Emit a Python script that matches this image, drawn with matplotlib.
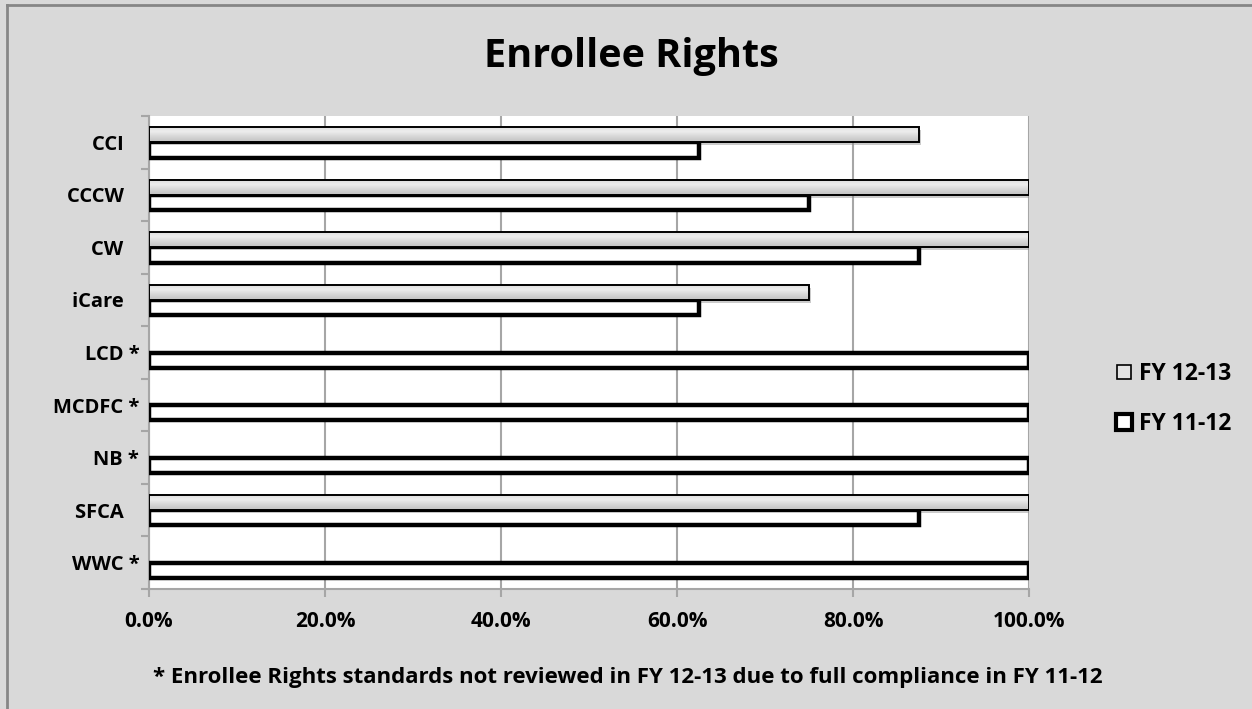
import matplotlib.pyplot as plt
import numpy as np
from matplotlib.colors import LinearSegmentedColormap
from matplotlib.lines import Line2D
from matplotlib.patches import Rectangle
from matplotlib.ticker import FixedLocator, PercentFormatter
from matplotlib.transforms import offset_copy

plans = ['CCI', 'CCCW', 'CW', 'iCare', 'LCD *', 'MCDFC *', 'NB *', 'SFCA', 'WWC *']
fy_12_13 = [0.875, 1.0, 1.0, 0.75, np.nan, np.nan, np.nan, 1.0, np.nan]
fy_11_12 = [0.625, 0.75, 0.875, 0.625, 1.0, 1.0, 1.0, 0.875, 1.0]
x_ticks = [0.0, 0.2, 0.4, 0.6, 0.8, 1.0]

title = 'Enrollee Rights'
footnote = '* Enrollee Rights standards not reviewed in FY 12-13 due to full compliance in FY 11-12'

plt.rcParams['font.family'] = ['Open Sans', 'DejaVu Sans']
plt.rcParams['font.weight'] = 'bold'

BG = '#d9d9d9'
GRID = '#a6a6a6'
grad_cmap = LinearSegmentedColormap.from_list(
    'bar', ['#dcdcdc', '#ededed', '#d6d6d6', '#c2c2c2'])


def gradient_bar(ax, bar):
    # fill a bar with a vertical grey gradient clipped to its outline
    x0, y0 = bar.get_x(), bar.get_y()
    w, h = bar.get_width(), bar.get_height()
    grad = np.linspace(0, 1, 64).reshape(-1, 1)
    im = ax.imshow(grad, extent=[x0, x0 + w, y0 + h, y0], origin='upper',
                   aspect='auto', cmap=grad_cmap, zorder=3.5, interpolation='bilinear')
    im.set_clip_path(bar)


def enrollee_rights_plot():
    fig = plt.figure(figsize=(12.52, 7.09), dpi=100, facecolor=BG)
    ax = fig.add_axes([149 / 1252, 1 - 589 / 709, 880 / 1252, 473 / 709])
    ax.set_facecolor('white')

    y = np.arange(len(plans))
    h = 0.29

    ax.barh(y + h / 2, fy_11_12, height=h, color='white', edgecolor='black',
            linewidth=3.2, zorder=3)
    bars_new = ax.barh(y - h / 2, fy_12_13, height=h, color='none', edgecolor='black',
                       linewidth=1.4, zorder=4)
    shadow_tr = offset_copy(ax.transData, fig=fig, x=2, y=-3, units='dots')
    for bar in bars_new:
        if np.isnan(bar.get_width()):
            continue
        ax.add_patch(Rectangle((bar.get_x(), bar.get_y()), bar.get_width(), bar.get_height(),
                               transform=shadow_tr, facecolor='#8c8c8c', alpha=0.45,
                               edgecolor='none', zorder=2.5))
        gradient_bar(ax, bar)

    ax.set_xlim(0, 1)
    ax.set_ylim(len(plans) - 0.5, -0.5)

    ax.xaxis.set_major_locator(FixedLocator(x_ticks))
    ax.xaxis.set_major_formatter(PercentFormatter(1.0, decimals=1))
    ax.grid(axis='x', color=GRID, linewidth=1.5, zorder=0)
    ax.set_axisbelow(True)

    # names without an asterisk keep trailing spaces so they line up
    ax.set_yticks(y)
    ax.set_yticklabels([p if p.endswith('*') else p + '   ' for p in plans])
    ax.set_yticks(np.arange(len(plans) + 1) - 0.5, minor=True)
    ax.tick_params(axis='y', which='major', length=0, pad=7, labelsize=14.5)
    ax.tick_params(axis='y', which='minor', length=6, width=1.5, color=GRID)
    ax.tick_params(axis='x', length=6, width=1.5, color=GRID, pad=10, labelsize=15)

    for side in ['top', 'right']:
        ax.spines[side].set_visible(False)
    for side in ['left', 'bottom']:
        ax.spines[side].set_color(GRID)
        ax.spines[side].set_linewidth(1.5)

    fig.text(631 / 1252, 1 - 56 / 709, title, ha='center', va='center', fontsize=28.5,
             fontweight='bold')
    fig.text(628 / 1252, 1 - 678 / 709, footnote, ha='center', va='center', fontsize=16,
             fontweight='bold')

    handles = [
        Line2D([], [], linestyle='none', marker='s', markersize=10.5, markerfacecolor='#e4e4e4',
               markeredgecolor='black', markeredgewidth=1.2),
        Line2D([], [], linestyle='none', marker='s', markersize=11.5, markerfacecolor='white',
               markeredgecolor='black', markeredgewidth=3),
    ]
    fig.legend(handles, ['FY 12-13', 'FY 11-12'], loc='center left',
               bbox_to_anchor=(1092 / 1252, 1 - 399 / 709), frameon=False,
               prop={'size': 16.5, 'weight': 'bold'}, handletextpad=0.15,
               labelspacing=1.1, handlelength=1.0)

    # chart frame
    fig.add_artist(Line2D([7 / 1252, 7 / 1252], [0, 1 - 5 / 709], transform=fig.transFigure,
                          color='#868686', linewidth=2))
    fig.add_artist(Line2D([7 / 1252, 1], [1 - 5 / 709, 1 - 5 / 709], transform=fig.transFigure,
                          color='#868686', linewidth=2))

    fig.savefig('out.png', dpi=100, facecolor=BG)


def main():
    enrollee_rights_plot()


if __name__ == '__main__':
    main()
